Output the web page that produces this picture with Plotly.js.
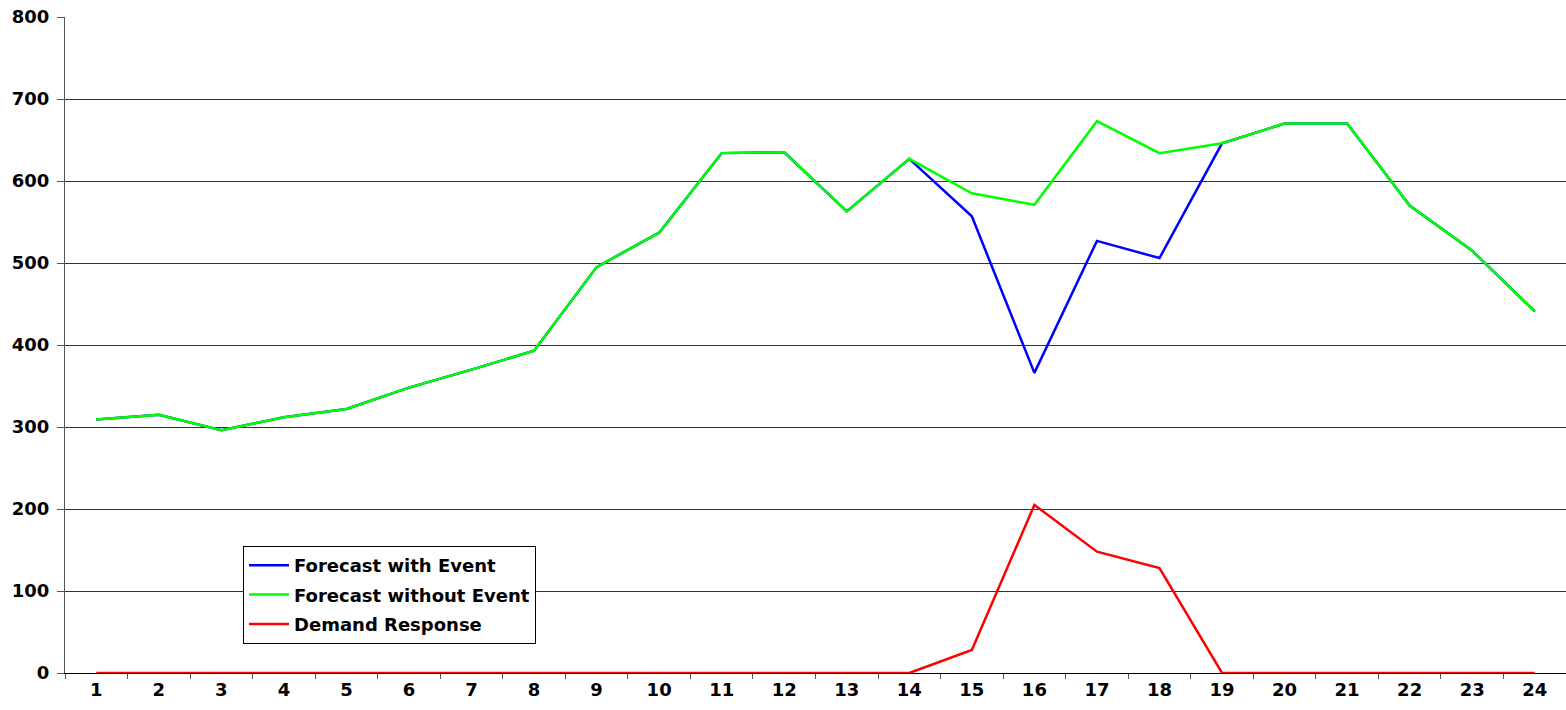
<!DOCTYPE html>
<html>
<head>
<meta charset="utf-8">
<script src="https://cdn.plot.ly/plotly-3.0.1.min.js"></script>
<style>html,body{margin:0;padding:0;background:#fff;}#chart{width:1566px;height:710px;}</style>
</head>
<body>
<div id="chart"></div>
<script>
const hours = ["1","2","3","4","5","6","7","8","9","10","11","12","13","14","15","16","17","18","19","20","21","22","23","24"];
const forecastWithEvent = [309,315,296,312,322,348,370,393,495,537,634,635,563,627,557,366,527,506,646,670,670,570,515,441];
const forecastWithoutEvent = [309,315,296,312,322,348,370,393,495,537,634,635,563,627,585,571,673,634,646,670,670,570,515,441];
const demandResponse = [0,0,0,0,0,0,0,0,0,0,0,0,0,0,28,205,148,128,0,0,0,0,0,0];
const yTicks = [0,100,200,300,400,500,600,700,800];

const fam = "DejaVu Sans, Arial, sans-serif";
const traces = [
  {x: hours, y: forecastWithEvent, name: "Forecast with Event", legendgroup: "a", type: "scatter", mode: "lines", line: {color: "#0000ff", width: 2.5}},
  {x: hours, y: forecastWithoutEvent, name: "Forecast without Event", legendgroup: "b", type: "scatter", mode: "lines", line: {color: "#00ff00", width: 2.5}},
  {x: hours, y: demandResponse, name: "Demand Response", legendgroup: "c", type: "scatter", mode: "lines", line: {color: "#ff0000", width: 2.5}}
];
const layout = {
  width: 1566, height: 710,
  margin: {l: 65, r: 0, t: 17, b: 37},
  paper_bgcolor: "#fff", plot_bgcolor: "#fff",
  font: {family: fam, size: 18, color: "#000"},
  showlegend: true,
  legend: {x: 0.1186, y: 0.1936, xanchor: "left", yanchor: "top", bgcolor: "#fff", bordercolor: "#000", borderwidth: 1,
           itemwidth: 40, font: {family: fam, size: 18, color: "#000", weight: "bold"}, tracegroupgap: 3},
  xaxis: {type: "category", range: [-0.5, 23.5], tickson: "boundaries", ticks: "outside", ticklen: 5, tickcolor: "#555",
          showgrid: false, showline: true, linecolor: "#000", linewidth: 1, zeroline: false,
          tickfont: {family: fam, size: 18, color: "#000", weight: "bold"}, fixedrange: true},
  yaxis: {range: [0, 800], tickvals: yTicks, ticks: "outside", ticklen: 7, tickcolor: "#555", ticklabelstandoff: 4,
          showgrid: true, gridcolor: "#333", gridwidth: 1, showline: true, linecolor: "#555", linewidth: 1, zeroline: false,
          tickfont: {family: fam, size: 18, color: "#000", weight: "bold"}, fixedrange: true}
};
Plotly.newPlot("chart", traces, layout, {displayModeBar: false, staticPlot: true});
</script>
</body>
</html>
